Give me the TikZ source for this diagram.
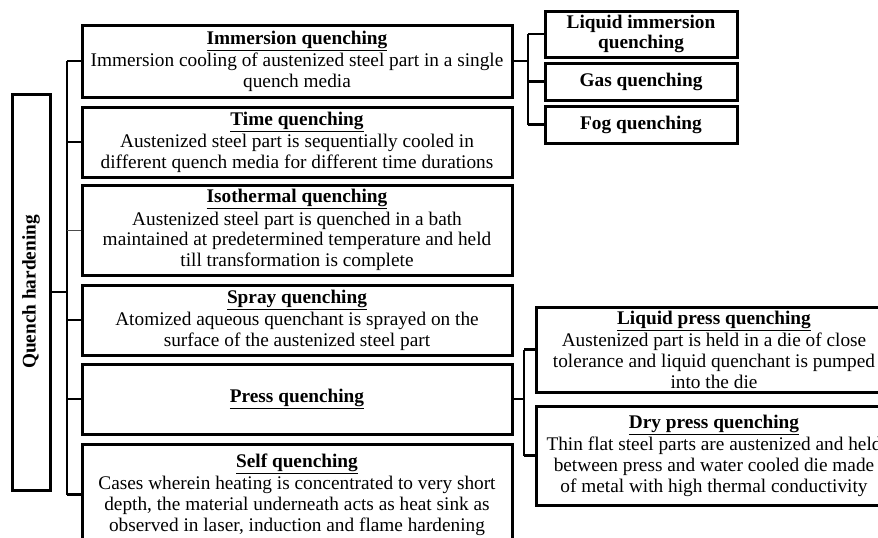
\documentclass[tikz,border=0pt]{standalone}
\usepackage{fontspec}
\setmainfont{Liberation Serif}
\begin{document}
\begin{tikzpicture}[x=1pt,y=-1pt,
  box/.style={draw=black,line width=3pt,inner sep=0pt,align=center,font=\fontsize{19.3}{20.6}\selectfont},
  subbox/.style={box,font=\fontsize{19.3}{19.5}\selectfont\bfseries},
  conn/.style={draw=black,line width=2.6pt},
  thinconn/.style={draw=black!70,line width=0.8pt}]
\useasboundingbox (0,0) rectangle (878,538);
\clip (0,0) rectangle (878,538);
\newcommand{\ttl}[1]{\underline{\textbf{#1}}}
% root
\node[box,minimum width=38pt,minimum height=396pt] (root) at (31,292) {};
\node[rotate=90,font=\fontsize{19.3}{20}\selectfont\bfseries] (roottext) at (root.center) {Quench hardening};
% main boxes
\node[box,minimum width=430pt,minimum height=72pt] (b1) at (297,61)
  {\ttl{Immersion quenching}\\[2pt]Immersion cooling of austenized steel part in a single\\quench media};
\node[box,minimum width=430pt,minimum height=70pt] (b2) at (297,142)
  {\ttl{Time quenching}\\[2pt]Austenized steel part is sequentially cooled in\\different quench media for different time durations};
\node[box,minimum width=430pt,minimum height=90pt] (b3) at (297,230)
  {\ttl{Isothermal quenching}\\[2pt]Austenized steel part is quenched in a bath\\maintained at predetermined temperature and held\\till transformation is complete};
\node[box,minimum width=430pt,minimum height=70pt] (b4) at (297,320)
  {\ttl{Spray quenching}\\[2pt]Atomized aqueous quenchant is sprayed on the\\surface of the austenized steel part};
\node[box,minimum width=430pt,minimum height=70pt] (b5) at (297,399)
  {\ttl{Press quenching}};
\node[box,minimum width=430pt,minimum height=101pt] (b6) at (297,494.5)
  {\ttl{Self quenching}\\[2pt]Cases wherein heating is concentrated to very short\\depth, the material underneath acts as heat sink as\\observed in laser, induction and flame hardening};
% immersion sub boxes
\node[subbox,minimum width=192pt,minimum height=46pt] (s1) at (641,34) {Liquid immersion\\quenching};
\node[subbox,minimum width=192pt,minimum height=37pt] (s2) at (641,81.5) {Gas quenching};
\node[subbox,minimum width=192pt,minimum height=37pt] (s3) at (641,124.5) {Fog quenching};
% press sub boxes
\node[box,minimum width=356pt,minimum height=85pt] (p1) at (714,349.5)
  {\ttl{Liquid press quenching}\\[2pt]Austenized part is held in a die of close\\tolerance and liquid quenchant is pumped\\into the die};
\node[box,minimum width=356pt,minimum height=99pt] (p2) at (714,455.5)
  {\ttl{Dry press quenching}\\[2pt]Thin flat steel parts are austenized and held\\between press and water cooled die made\\of metal with high thermal conductivity};
% trunk coordinates
\coordinate (tk) at (67,0);
\coordinate (tr) at (528,0);
\coordinate (tp) at (524,0);
% root trunk
\draw[conn] (root.east) -- (root.east -| tk);
\draw[conn] (b1.west -| tk) -- (b6.west -| tk);
\draw[conn] (b1.west) -- (b1.west -| tk);
\draw[conn] (b2.west) -- (b2.west -| tk);
\draw[thinconn] (b3.west) -- (b3.west -| tk);
\draw[conn] (b4.west) -- (b4.west -| tk);
\draw[conn] (b5.west) -- (b5.west -| tk);
\draw[conn] (b6.west) -- (b6.west -| tk);
% immersion branch
\draw[conn] (b1.east) -- (b1.east -| tr);
\draw[conn] (s1.west -| tr) -- (s3.west -| tr);
\draw[conn] (s1.west) -- (s1.west -| tr);
\draw[conn] (s2.west) -- (s2.west -| tr);
\draw[conn] (s3.west) -- (s3.west -| tr);
% press branch
\draw[conn] (b5.east) -- (b5.east -| tp);
\draw[conn] (p1.west -| tp) -- (p2.west -| tp);
\draw[conn] (p1.west) -- (p1.west -| tp);
\draw[conn] (p2.west) -- (p2.west -| tp);
\end{tikzpicture}
\end{document}
